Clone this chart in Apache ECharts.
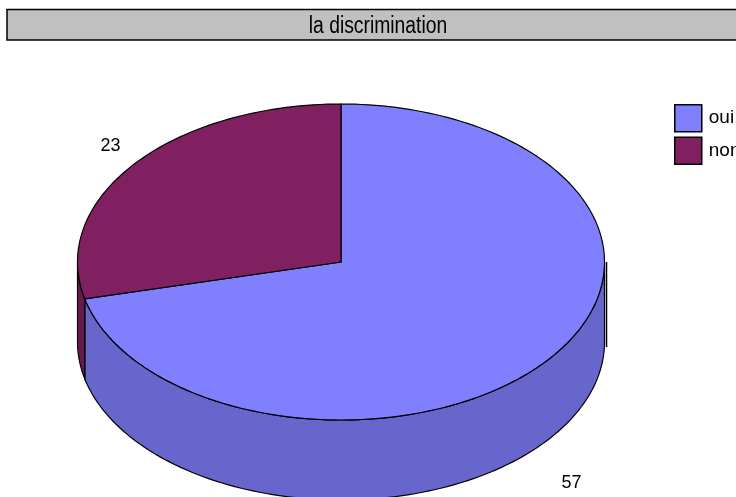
<!DOCTYPE html>
<html>
<head>
<meta charset="utf-8">
<script src="https://cdn.jsdelivr.net/npm/echarts@6/dist/echarts.min.js"></script>
<style>
  html, body { margin: 0; padding: 0; background: #fff; }
  #chart { width: 736px; height: 497px; }
</style>
</head>
<body>
<div id="chart"></div>
<script>
var categories = ['oui', 'non'];
var values = [57, 23];
var topColors = ['#8080ff', '#802060'];
var sideColors = ['#6666cc', '#661a4d'];

var chartDom = document.getElementById('chart');
var myChart = echarts.init(chartDom);

// geometrie du camembert 3D
var cx = 341, cy = 262, rx = 263.5, ry = 158, depth = 80;
var total = values.reduce(function (a, b) { return a + b; }, 0);

function pt(deg, dy) {
    var t = deg * Math.PI / 180;
    return [cx + rx * Math.cos(t), cy + ry * Math.sin(t) + dy];
}

function arc(a, b, dy) {
    var pts = [];
    var n = Math.max(2, Math.ceil(Math.abs(b - a) / 1.5));
    for (var k = 0; k <= n; k++) {
        pts.push(pt(a + (b - a) * k / n, dy));
    }
    return pts;
}

function makeRender(i) {
    var cum = 0;
    for (var j = 0; j < i; j++) cum += values[j];
    var start = -90 + 360 * cum / total;
    var end = start + 360 * values[i] / total;
    return function (params, api) {
        var v = api.value(0);
        var children = [];
        // face laterale visible (moitie avant)
        var a = Math.max(start, 0), b = Math.min(end, 180);
        if (b > a) {
            var side = arc(a, b, 0).concat(arc(b, a, depth));
            children.push({
                type: 'polygon',
                shape: { points: side },
                style: { fill: sideColors[i], stroke: '#000', lineWidth: 1.2 }
            });
            if (a === 0) {
                // petit trait vertical a droite (comme Excel)
                children.push({
                    type: 'line',
                    shape: { x1: cx + rx + 2, y1: cy, x2: cx + rx + 2, y2: cy + depth + 5 },
                    style: { stroke: '#000', lineWidth: 1.5 }
                });
            }
        }
        // dessus
        var top = [[cx, cy]].concat(arc(start, end, 0));
        children.push({
            type: 'polygon',
            shape: { points: top },
            style: { fill: topColors[i], stroke: '#000', lineWidth: 1.2 }
        });
        // etiquette
        var mid = (start + end) / 2;
        var t = mid * Math.PI / 180;
        var k = 30;
        var lx = cx + (rx + k) * Math.cos(t);
        var ly = cy + (ry + k) * Math.sin(t) + (Math.sin(t) > 0 ? depth + 25 : 0);
        children.push({
            type: 'text',
            style: {
                x: lx, y: ly, text: String(v),
                fill: '#000', font: '18px "Liberation Sans", Arial, sans-serif',
                align: 'center', verticalAlign: 'middle'
            }
        });
        return { type: 'group', children: children };
    };
}

var series = categories.map(function (name, i) {
    return {
        name: name,
        type: 'custom',
        coordinateSystem: 'none',
        itemStyle: { color: topColors[i] },
        renderItem: makeRender(i),
        data: [[values[i]]],
        silent: true,
        animation: false
    };
});

option = {
    animation: false,
    legend: {
        orient: 'vertical',
        left: 674,
        top: 104,
        padding: 0,
        itemWidth: 27,
        itemHeight: 27,
        itemGap: 4,
        icon: 'rect',
        selectedMode: false,
        itemStyle: { borderColor: '#000', borderWidth: 1.5 },
        textStyle: {
            color: '#000',
            fontSize: 19,
            fontFamily: 'Liberation Sans',
            padding: [0, 0, 0, 2]
        },
        data: categories
    },
    graphic: [
        {
            type: 'rect',
            shape: { x: 7, y: 9.5, width: 740, height: 30.5 },
            style: { fill: '#c0c0c0', stroke: '#000', lineWidth: 1.5 }
        },
        {
            type: 'text',
            x: 378,
            y: 27,
            scaleX: 0.84,
            style: {
                x: 0, y: 0,
                text: 'la discrimination',
                fill: '#000',
                font: '23px "Liberation Sans", Arial, sans-serif',
                align: 'center',
                verticalAlign: 'middle'
            }
        }
    ],
    series: series
};

option && myChart.setOption(option);
new ResizeObserver(() => myChart.resize()).observe(chartDom);
</script>
</body>
</html>
